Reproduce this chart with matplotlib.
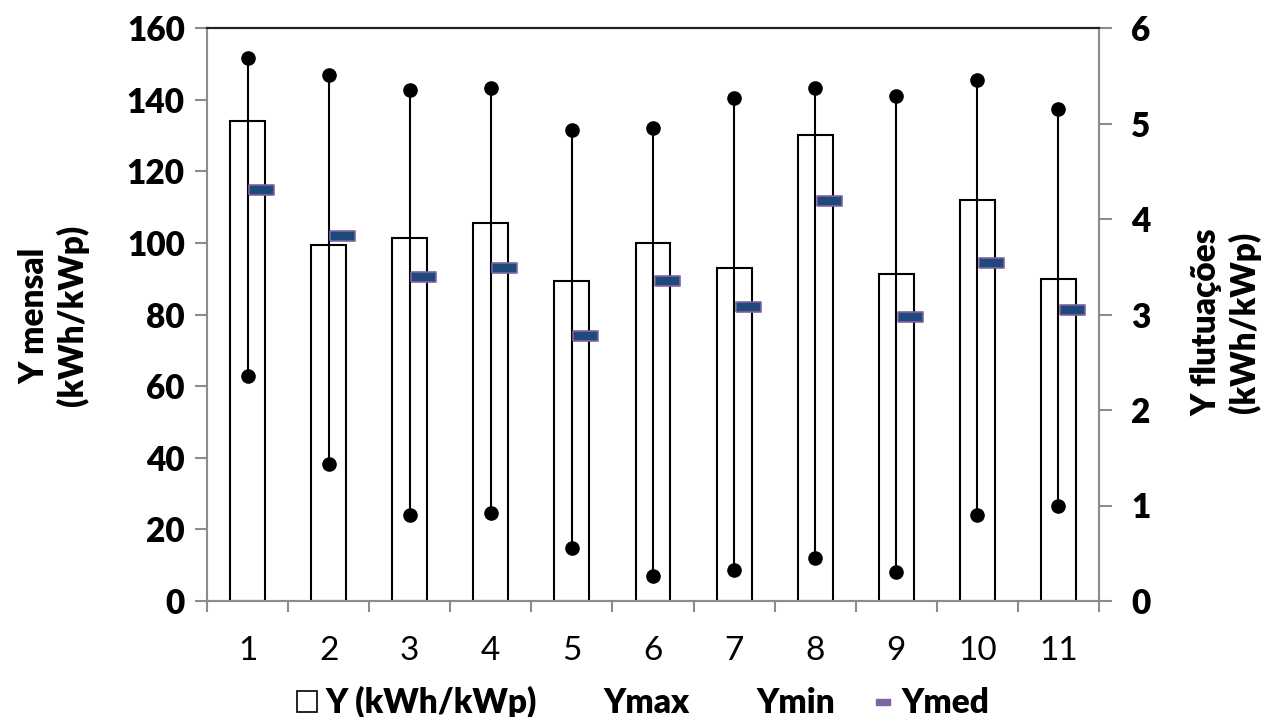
import matplotlib
matplotlib.use("Agg")
import matplotlib.pyplot as plt
import numpy as np
from matplotlib.patches import Rectangle
from matplotlib.lines import Line2D

plt.rcParams['font.family'] = ['Lato', 'DejaVu Sans']

categories = ['1', '2', '3', '4', '5', '6', '7', '8', '9', '10', '11']
y_monthly = [133.9, 99.4, 101.3, 105.5, 89.4, 100.1, 92.9, 130.1, 91.2, 111.9, 89.9]
# fluctuations on right axis (kWh/kWp)
y_max = [5.69, 5.51, 5.35, 5.37, 4.93, 4.95, 5.27, 5.37, 5.29, 5.46, 5.15]
y_min = [2.36, 1.43, 0.90, 0.92, 0.56, 0.26, 0.32, 0.45, 0.30, 0.90, 0.99]
y_med = [4.30, 3.82, 3.39, 3.49, 2.78, 3.35, 3.08, 4.19, 2.97, 3.54, 3.05]

FS = 24

fig = plt.figure(figsize=(12.72, 7.17), dpi=100)
ax = fig.add_axes([207/1272, 1-601/717, (1099-207)/1272, (601-28)/717])
ax2 = ax.twinx()

x = np.arange(len(categories))
ax.bar(x, y_monthly, width=0.43, facecolor='white', edgecolor='black', linewidth=1.5, zorder=2)

ax.set_xlim(-0.5, len(categories) - 0.5)
ax.set_ylim(0, 160)
ax.set_yticks(np.arange(0, 161, 20))
ax2.set_ylim(0, 6)
ax2.set_yticks(np.arange(0, 7, 1))

ax2.vlines(x, y_min, y_max, colors='black', linewidth=1.5, zorder=3)
ax2.plot(x, y_max, 'o', color='black', markersize=9.5, linestyle='none', zorder=4)
ax2.plot(x, y_min, 'o', color='black', markersize=9.5, linestyle='none', zorder=4)
rect_marker = [(-1, -0.4), (1, -0.4), (1, 0.4), (-1, 0.4), (-1, -0.4)]
ax2.plot(x + 0.167, y_med, marker=rect_marker, markersize=18, linestyle='none',
         mfc='#1f497d', mec='#8064a2', mew=1.2, zorder=5)

gray = '#8c8c8c'
for a in (ax, ax2):
    for s in ('left', 'right', 'bottom'):
        a.spines[s].set_color(gray)
        a.spines[s].set_linewidth(1.5)
    a.spines['top'].set_color('#222222')
    a.spines['top'].set_linewidth(1.5)

ax.set_xticks(x)
ax.set_xticklabels(categories)
ax.set_xticks(np.arange(-0.5, len(categories), 1), minor=True)
ax.tick_params(axis='x', which='major', length=0, pad=25, labelsize=FS)
ax.tick_params(axis='x', which='minor', length=8, width=1.5, color=gray, direction='out')
ax.tick_params(axis='y', length=9, width=1.5, color=gray, pad=7, labelsize=FS)
ax2.tick_params(axis='y', length=9, width=1.5, color=gray, pad=14, labelsize=FS)
for lbl in ax.get_yticklabels() + ax2.get_yticklabels():
    lbl.set_fontweight('heavy')

fig.text(54/1272, 0.56, 'Y mensal\n(kWh/kWp)', rotation=90, ha='center', va='center',
         multialignment='center', fontsize=FS, fontweight='heavy', linespacing=1.2)
fig.text(1226/1272, 0.55, 'Y flutuações\n(kWh/kWp)', rotation=90, ha='center', va='center',
         multialignment='center', fontsize=FS, fontweight='heavy', linespacing=1.2)

handles = [
    Rectangle((0, 0), 1, 1, facecolor='white', edgecolor='black', linewidth=1.2),
    Line2D([], [], linestyle='none'),
    Line2D([], [], linestyle='none'),
    Line2D([], [], linestyle='none', marker=rect_marker, markersize=10, mfc='#8064a2', mec='#8064a2'),
]
labels = ['Y (kWh/kWp)', 'Ymax', 'Ymin', 'Ymed']
leg = fig.legend(handles, labels, loc='center', bbox_to_anchor=(643/1272, 0.02), ncol=4,
                 frameon=False, prop={'weight': 'heavy', 'size': FS},
                 handlelength=0.6, handleheight=0.6, handletextpad=0.25, columnspacing=1.15)

fig.savefig('out.png', dpi=100)
